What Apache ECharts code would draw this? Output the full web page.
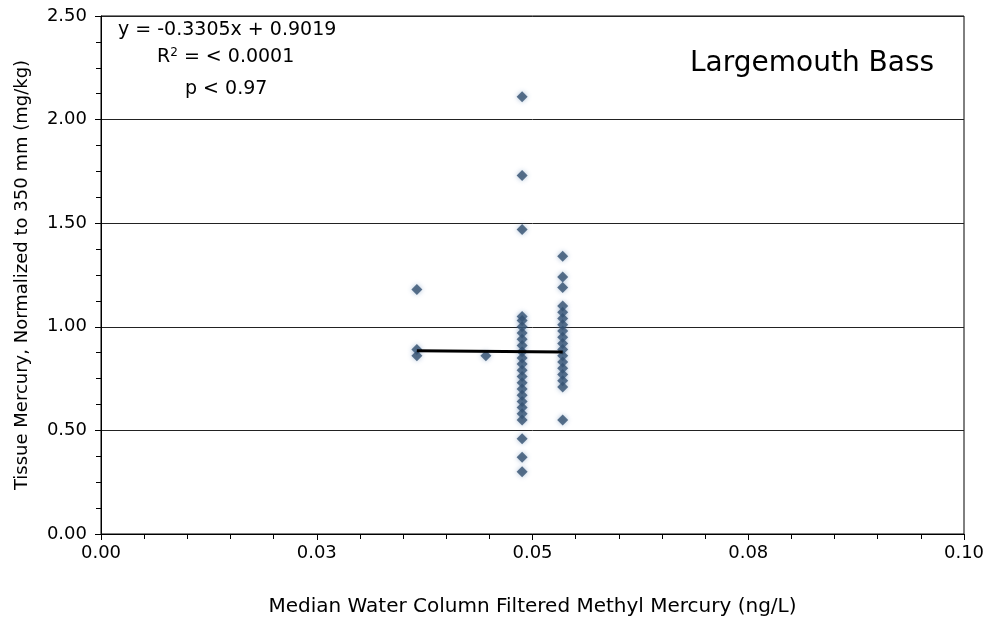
<!DOCTYPE html>
<html><head><meta charset="utf-8">
<script src="https://cdn.jsdelivr.net/npm/echarts@6/dist/echarts.min.js"></script>
<style>html,body{margin:0;padding:0;background:#fff}#c{width:992px;height:626px}</style>
</head><body><div id="c"></div>
<script>
const xTickLabels = ['0.00', '0.03', '0.05', '0.08', '0.10'];
const xA = 0.0366, yA = [1.18, 0.89, 0.86];
const xB = 0.0446, yB = [0.86];
const xC = 0.0488, yC = [2.11, 1.73, 1.47, 1.05, 1.03, 1.00, 0.97, 0.94, 0.91, 0.88, 0.85, 0.82, 0.79, 0.76, 0.73, 0.70, 0.67, 0.64, 0.61, 0.58, 0.55, 0.46, 0.37, 0.30];
const xD = 0.0535, yD = [1.34, 1.24, 1.19, 1.10, 1.07, 1.04, 1.01, 0.98, 0.95, 0.92, 0.89, 0.86, 0.83, 0.80, 0.77, 0.74, 0.71, 0.55];
const trendX = [0.0366, 0.0535];
const trendY = [0.885, 0.878];

const pts = [];
[[xA, yA], [xB, yB], [xC, yC], [xD, yD]].forEach(([x, ys]) => ys.forEach(y => pts.push([x, y])));
const trend = trendX.map((x, i) => [x, trendY[i]]);

const font = '"DejaVu Sans", Arial, sans-serif';
const chart = echarts.init(document.getElementById('c'));
chart.setOption({
  animation: false,
  backgroundColor: '#fff',
  grid: {left: 101, right: 28, top: 16, bottom: 92, show: true, borderColor: '#000', borderWidth: 1},
  xAxis: {
    type: 'value', min: 0, max: 0.1, interval: 0.025,
    axisLine: {show: true, onZero: false, lineStyle: {color: '#000', width: 1}},
    axisTick: {show: true, length: 6, lineStyle: {color: '#000'}},
    minorTick: {show: true, splitNumber: 5, length: 5, lineStyle: {color: '#000'}},
    splitLine: {show: false},
    axisLabel: {color: '#000', fontSize: 18, fontFamily: font, margin: 10,
      formatter: v => xTickLabels[Math.round(v / 0.025)]},
    name: 'Median Water Column Filtered Methyl Mercury (ng/L)',
    nameLocation: 'middle', nameGap: 63,
    nameTextStyle: {color: '#000', fontSize: 20, fontFamily: font}
  },
  yAxis: {
    type: 'value', min: 0, max: 2.5, interval: 0.5,
    axisLine: {show: true, onZero: false, lineStyle: {color: '#000', width: 1}},
    axisTick: {show: true, length: 6, lineStyle: {color: '#000'}},
    minorTick: {show: true, splitNumber: 4, length: 5, lineStyle: {color: '#000'}},
    splitLine: {show: true, lineStyle: {color: '#222', width: 1}},
    axisLabel: {color: '#000', fontSize: 18, fontFamily: font, margin: 14,
      formatter: v => v.toFixed(2)},
    name: 'Tissue Mercury, Normalized to 350 mm (mg/kg)',
    nameLocation: 'middle', nameGap: 70,
    nameTextStyle: {color: '#000', fontSize: 18, fontFamily: font}
  },
  series: [
    {type: 'scatter', data: pts, symbol: 'diamond', symbolSize: 11,
      itemStyle: {color: '#33506f', shadowBlur: 5, shadowColor: 'rgba(90,130,180,0.6)'}, z: 3},
    {type: 'line', data: trend, symbol: 'none', lineStyle: {color: '#000', width: 3}, z: 4}
  ],
  graphic: [
    {type: 'text', left: 118, top: 21, style: {text: 'y = -0.3305x + 0.9019', font: '19px ' + font, fill: '#000'}},
    {type: 'text', left: 157, top: 47, style: {text: '{a|R}{s|2}{a| = < 0.0001}', fill: '#000',
      rich: {a: {fontSize: 19, fontFamily: font, color: '#000'}, s: {fontSize: 12, fontFamily: font, color: '#000', verticalAlign: 'top', padding: [0, 0, 8, 0]}}}},
    {type: 'text', left: 185, top: 80, style: {text: 'p < 0.97', font: '19px ' + font, fill: '#000'}},
    {type: 'text', left: 690, top: 50, style: {text: 'Largemouth Bass', font: '28px ' + font, fill: '#000'}}
  ]
});
</script></body></html>
